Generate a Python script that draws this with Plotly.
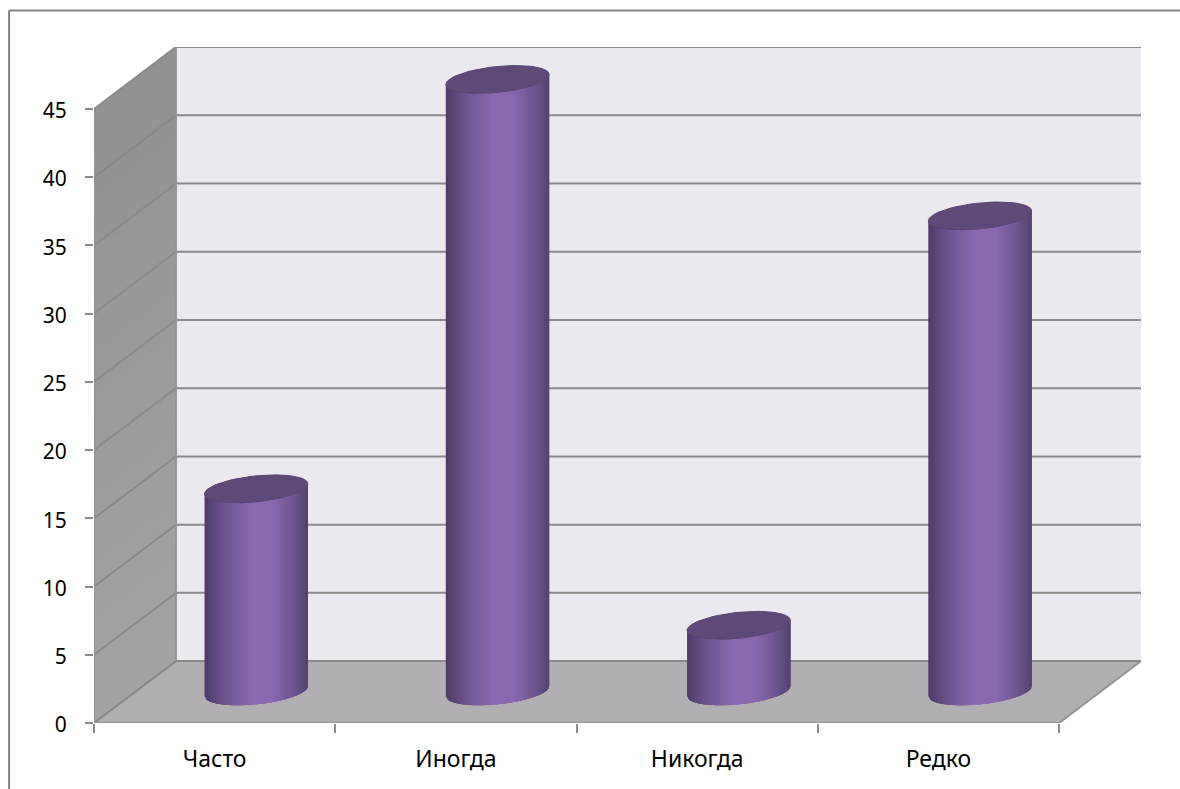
import math
import plotly.graph_objects as go

categories = ["Часто", "Иногда", "Никогда", "Редко"]
values = [15, 45, 5, 35]
y_ticks = [0, 5, 10, 15, 20, 25, 30, 35, 40, 45]

# Projection of the chart's depth, in axis units
DX = 82 / 241.4
DY = 62 / 13.67
HALF_W = 51.7 / 241.4
CENTER_SHIFT = 0.6 / 241.4
TOP_INSET = 1.5 / 13.67
BOTTOM_LIFT = 0.7 / 13.67
ELL_B = 13 / 13.67
ELL_K = 5 / 13.67
X0, X1 = -0.5, len(categories) - 0.5
YMAX = y_ticks[-1]
GRID = "#8a8a8a"
STRIPS = 64
WALL_BANDS = 30

shade_stops = [(-1.0, (78, 58, 106)), (-0.6, (111, 85, 144)), (-0.1, (138, 105, 174)),
               (0.3, (138, 105, 174)), (0.7, (112, 87, 145)), (1.0, (84, 66, 111))]


def shade(u):
    for (a, ca), (b, cb) in zip(shade_stops, shade_stops[1:]):
        if u <= b:
            f = (u - a) / (b - a)
            return "rgb(%d,%d,%d)" % tuple(round(p + (q - p) * f) for p, q in zip(ca, cb))
    return "rgb(84,66,111)"


def poly(xs, ys, color, line=None, width=0):
    return go.Scatter(x=xs, y=ys, mode="lines", fill="toself", fillcolor=color,
                      line=dict(color=line or color, width=width), hoverinfo="skip",
                      showlegend=False, cliponaxis=False)


fig = go.Figure()

# Back wall
fig.add_trace(poly([X0 + DX, X1 + DX, X1 + DX, X0 + DX], [DY, DY, YMAX + DY, YMAX + DY], "#ebe8f0"))

# Left wall with a soft vertical gradient; each band runs under the next one
for i in range(WALL_BANDS):
    f0 = i / WALL_BANDS
    v0, v1 = YMAX * f0, YMAX * min(1.0, (i + 3) / WALL_BANDS)
    c = "rgb(%d,%d,%d)" % (round(163 - 17 * f0), round(162 - 18 * f0), round(164 - 15 * f0))
    fig.add_trace(poly([X0, X0 + DX, X0 + DX, X0], [v0, v0 + DY, v1 + DY, v1], c))

# Floor
fig.add_trace(poly([X0, X1, X1 + DX, X0 + DX], [0, 0, DY, DY], "#b3aeb3"))

# Gridlines on the wall planes
gx, gy = [], []
for v in y_ticks:
    gx += [X0, X0 + DX, X1 + DX, None]
    gy += [v, v + DY, v + DY, None]
fig.add_trace(go.Scatter(x=gx, y=gy, mode="lines", line=dict(color=GRID, width=2),
                         hoverinfo="skip", showlegend=False, cliponaxis=False))

# Wall and floor edges
ex = [X0 + DX, X0 + DX, None, X0, X0, None, X0, X1, X1 + DX]
ey = [DY, YMAX + DY, None, 0, YMAX, None, 0, 0, DY]
fig.add_trace(go.Scatter(x=ex, y=ey, mode="lines", line=dict(color="#949494", width=2),
                         hoverinfo="skip", showlegend=False, cliponaxis=False))


def lower(base, u):
    return base + ELL_K * u - ELL_B * math.sqrt(max(0.0, 1 - u * u))


# Cylinder bodies: strips drawn left to right, each overlapping under the next
for s in range(STRIPS):
    u0 = -1 + 2 * s / STRIPS
    u_mid = u0 + 1 / STRIPS
    u1 = min(1.0, -1 + 2 * (s + 3) / STRIPS)
    us = [u0 + (u1 - u0) * n / 4 for n in range(5)]
    xs, ys = [], []
    for i, v in enumerate(values):
        cx = i + DX / 2 + CENTER_SHIFT
        bot = DY / 2 + BOTTOM_LIFT
        top = v + DY / 2 - TOP_INSET
        xs += [cx + HALF_W * u for u in us] + [cx + HALF_W * u for u in reversed(us)] + [None]
        ys += [lower(bot, u) for u in us] + [lower(top, u) for u in reversed(us)] + [None]
    fig.add_trace(poly(xs, ys, shade(u_mid)))

# Cylinder caps
cap_x, cap_y = [], []
for i, v in enumerate(values):
    cx = i + DX / 2 + CENTER_SHIFT
    top = v + DY / 2 - TOP_INSET
    for n in range(73):
        t = 2 * math.pi * n / 72
        cap_x.append(cx + HALF_W * math.cos(t))
        cap_y.append(top + ELL_B * math.sin(t) + ELL_K * math.cos(t))
    cap_x.append(None)
    cap_y.append(None)
fig.add_trace(poly(cap_x, cap_y, "#5f4979", line="#594470", width=1))

yfont = dict(family="Noto Sans, sans-serif", size=21, color="#000000")
xfont = dict(family="Noto Sans, sans-serif", size=23, color="#000000")
fig.update_layout(
    width=1180, height=789, showlegend=False, paper_bgcolor="#ffffff", plot_bgcolor="rgba(0,0,0,0)",
    margin=dict(l=93.5, r=38.5, t=46.5, b=65.7, pad=0),
    font=yfont,
    xaxis=dict(range=[X0, X1 + DX], tickmode="array", tickvals=list(range(len(categories))),
               ticktext=categories, ticks="", showgrid=False, zeroline=False, showline=False,
               ticklabelstandoff=20, tickfont=xfont, fixedrange=True,
               minor=dict(ticks="outside", ticklen=9, tickwidth=2, tickcolor=GRID, showgrid=False,
                          tickmode="array",
                          tickvals=[k + X0 for k in range(len(categories) + 1)])),
    yaxis=dict(range=[0, YMAX + DY], tickmode="array", tickvals=y_ticks, ticks="outside", ticklen=8,
               tickwidth=2, tickcolor=GRID, showgrid=False, zeroline=False, showline=False,
               ticklabelstandoff=14, ticklabelshift=2, tickfont=yfont, fixedrange=True),
    shapes=[dict(type="line", xref="paper", yref="paper", x0=-85 / 1047.5, x1=1.1, y0=1 + 36.5 / 676.8, y1=1 + 36.5 / 676.8,
                 line=dict(color="#868686", width=2)),
            dict(type="line", xref="paper", yref="paper", x0=-85 / 1047.5, x1=-85 / 1047.5, y0=-0.2, y1=1 + 36.5 / 676.8,
                 line=dict(color="#868686", width=2))],
)

fig.write_html("out.html", config=dict(displayModeBar=False),
               post_script="document.body.style.margin='0';")
